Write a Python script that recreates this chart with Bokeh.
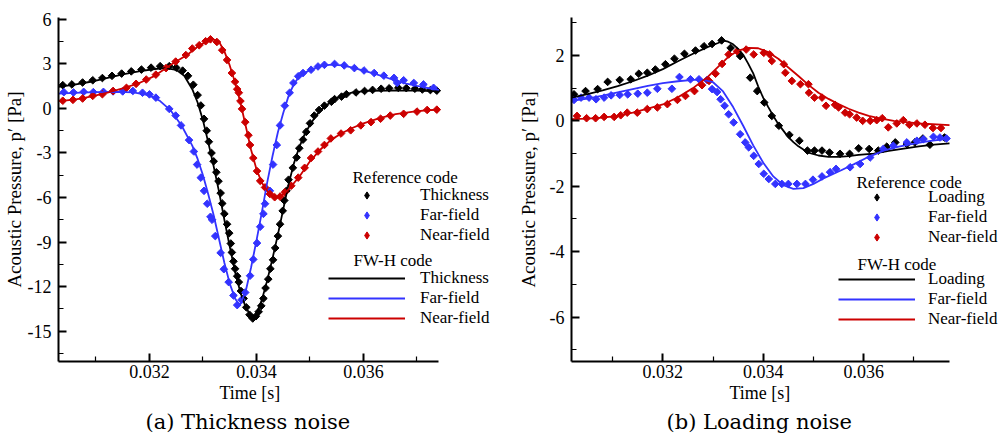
import math
from bokeh.plotting import figure
from bokeh.layouts import row
from bokeh.models import (Range1d, FixedTicker, PrintfTickFormatter, Legend,
                          LegendItem, Label, Title, ColumnDataSource)
from bokeh.embed import file_html
from bokeh.resources import INLINE

SERIF = "Liberation Serif"
CAPTION_FONT = "DejaVu Serif"
BLACK, BLUE, RED = "#000000", "#3333ff", "#cc0000"

# ---------------- (a) Thickness noise: time [s], p' [Pa] ----------------
thick_ref = [(0.03038, 1.57), (0.03055, 1.62), (0.03075, 1.75), (0.03094, 1.9), (0.03112, 2.05),
             (0.03130, 2.2), (0.03148, 2.35), (0.03166, 2.5), (0.03185, 2.62), (0.03203, 2.75),
             (0.03220, 2.85), (0.03237, 2.85), (0.03250, 2.75), (0.03262, 2.55), (0.03272, 2.2),
             (0.03282, 1.6), (0.03290, 0.9), (0.03296, 0.2), (0.03302, -0.7), (0.03307, -1.5),
             (0.03311, -2.24), (0.03316, -3.0), (0.03320, -3.56), (0.03325, -4.3), (0.03329, -4.9),
             (0.03333, -5.7), (0.03336, -6.4), (0.03340, -7.1), (0.03345, -7.8), (0.03349, -8.4),
             (0.03352, -9.1), (0.03354, -9.7), (0.03357, -10.3), (0.03360, -10.8), (0.03364, -11.3),
             (0.03367, -11.7), (0.03371, -12.3), (0.03376, -12.8), (0.03381, -13.4), (0.03387, -13.9),
             (0.03393, -14.15), (0.03399, -14.0), (0.03404, -13.7), (0.03409, -13.3), (0.03413, -12.8),
             (0.03417, -12.1), (0.03422, -11.5), (0.03426, -10.8), (0.03431, -10.2), (0.03435, -9.4),
             (0.03440, -8.6), (0.03444, -7.8), (0.03449, -6.9), (0.03452, -6.2), (0.03456, -5.55),
             (0.03460, -4.8), (0.03468, -4.0), (0.03475, -3.3), (0.03480, -2.68), (0.03487, -2.1),
             (0.03493, -1.58), (0.03500, -1.0), (0.03508, -0.48), (0.03517, -0.1), (0.03527, 0.19),
             (0.03540, 0.45), (0.03546, 0.63), (0.03559, 0.8), (0.03568, 0.96), (0.03586, 1.08),
             (0.03602, 1.18), (0.03617, 1.25), (0.03633, 1.33), (0.03648, 1.36), (0.03665, 1.39),
             (0.03680, 1.37), (0.03696, 1.33), (0.03710, 1.28), (0.03725, 1.24), (0.03737, 1.2)]
thick_far_ref = [(0.0304, 1.1), (0.03058, 1.08), (0.03077, 1.12), (0.03095, 1.1), (0.03114, 1.12),
                 (0.03132, 1.15), (0.0315, 1.15), (0.03169, 1.18), (0.03187, 1.06), (0.032, 0.95),
                 (0.03212, 0.73), (0.03237, -0.03), (0.03249, -0.48), (0.03259, -1.14), (0.03274, -2.13),
                 (0.03283, -2.9), (0.03289, -3.78), (0.03296, -4.66), (0.03302, -5.55), (0.03308, -6.42),
                 (0.03314, -7.3), (0.03317, -7.5), (0.03323, -8.6), (0.03333, -9.73), (0.03339, -10.83),
                 (0.03348, -11.7), (0.03357, -12.6), (0.03364, -13.25), (0.03372, -12.9), (0.03379, -12.4),
                 (0.03388, -11.27), (0.03394, -10.17), (0.03401, -9.07), (0.03407, -7.97), (0.03413, -7.1),
                 (0.03416, -6.42), (0.03425, -5.55), (0.03431, -3.78), (0.03438, -2.46), (0.03444, -1.14),
                 (0.03453, 0.19), (0.03462, 1.06), (0.03469, 1.72), (0.03478, 2.17), (0.03487, 2.39),
                 (0.03502, 2.61), (0.03515, 2.83), (0.03527, 2.94), (0.03546, 3.0), (0.03564, 2.9),
                 (0.03583, 2.72), (0.03601, 2.56), (0.0362, 2.39), (0.03638, 2.21), (0.03657, 2.06),
                 (0.03663, 1.72), (0.03675, 1.9), (0.03694, 1.72), (0.03712, 1.62), (0.03731, 1.39)]
thick_near_ref = [(0.03038, 0.52), (0.03057, 0.58), (0.03075, 0.67), (0.03094, 0.85), (0.03112, 0.96),
                  (0.03132, 1.18), (0.03157, 1.39), (0.03175, 1.66), (0.03194, 1.95), (0.03212, 2.28),
                  (0.03231, 2.72), (0.03249, 3.16), (0.03268, 3.6), (0.0328, 4.04), (0.03293, 4.26),
                  (0.03305, 4.53), (0.03314, 4.66), (0.03326, 4.48), (0.03336, 3.93), (0.03345, 3.27),
                  (0.03354, 2.39), (0.0336, 1.8), (0.03364, 1.3), (0.03367, 1.06), (0.0337, 0.5),
                  (0.03373, -0.03), (0.03379, -0.92), (0.03385, -1.8), (0.03388, -2.46), (0.03394, -3.34),
                  (0.03401, -4.22), (0.03407, -4.88), (0.03416, -5.32), (0.03425, -5.76), (0.03434, -5.98),
                  (0.03444, -5.94), (0.03453, -5.65), (0.03465, -5.21), (0.03478, -4.66), (0.0349, -4.0),
                  (0.03502, -3.34), (0.03515, -2.9), (0.03527, -2.46), (0.03539, -2.02), (0.03558, -1.69),
                  (0.03576, -1.47), (0.03595, -1.14), (0.03614, -0.92), (0.03632, -0.69), (0.0365, -0.48),
                  (0.03675, -0.36), (0.037, -0.21), (0.03719, -0.1), (0.03737, -0.08)]
thick_fwh = [(0.0303, 1.45), (0.0306, 1.6), (0.0309, 1.8), (0.0312, 2.05), (0.0315, 2.3), (0.0318, 2.5),
             (0.0321, 2.66), (0.0323, 2.72), (0.0325, 2.6), (0.03265, 2.2), (0.0328, 1.3), (0.0329, 0.4),
             (0.0330, -0.8), (0.0331, -2.3), (0.0332, -3.9), (0.0333, -5.6), (0.0334, -7.5), (0.0335, -9.3),
             (0.0336, -11.0), (0.0337, -12.4), (0.0338, -13.4), (0.0339, -14.0), (0.03395, -14.1),
             (0.0340, -13.85), (0.0341, -12.9), (0.0342, -11.6), (0.0343, -10.1), (0.0344, -8.5),
             (0.0345, -6.8), (0.0346, -5.1), (0.0347, -3.7), (0.0348, -2.6), (0.0349, -1.75), (0.0350, -1.1),
             (0.0351, -0.55), (0.0352, -0.12), (0.0353, 0.2), (0.0354, 0.45), (0.0355, 0.68), (0.0356, 0.88),
             (0.0358, 1.08), (0.0361, 1.18), (0.0365, 1.21), (0.0370, 1.2), (0.03741, 1.15)]
thick_far_fwh = [(0.0303, 1.0), (0.0306, 1.05), (0.0310, 1.1), (0.0314, 1.12), (0.0317, 1.08), (0.0320, 0.88),
                 (0.0322, 0.5), (0.0324, -0.15), (0.0326, -1.15), (0.0328, -2.5), (0.0329, -3.4), (0.0330, -4.5),
                 (0.0331, -5.8), (0.0332, -7.2), (0.0333, -8.8), (0.0334, -10.4), (0.0335, -11.8), (0.0336, -12.8),
                 (0.03367, -13.2), (0.0337, -13.15), (0.0338, -12.3), (0.0339, -10.7), (0.0340, -8.9),
                 (0.0341, -7.0), (0.0342, -5.0), (0.0343, -3.2), (0.0344, -1.6), (0.0345, -0.3), (0.0346, 0.85),
                 (0.0347, 1.65), (0.0348, 2.15), (0.0350, 2.6), (0.0352, 2.85), (0.0354, 2.95), (0.0356, 2.9),
                 (0.0358, 2.75), (0.0360, 2.55), (0.0362, 2.35), (0.0364, 2.12), (0.0366, 1.88), (0.0368, 1.68),
                 (0.0370, 1.52), (0.0372, 1.38), (0.03741, 1.25)]
thick_near_fwh = [(0.0303, 0.5), (0.0306, 0.6), (0.0309, 0.8), (0.0312, 1.05), (0.0315, 1.35), (0.0318, 1.7),
                  (0.0321, 2.2), (0.0324, 2.95), (0.0327, 3.6), (0.0329, 4.15), (0.0331, 4.6), (0.03318, 4.68),
                  (0.0333, 4.5), (0.0334, 3.85), (0.0335, 2.9), (0.0336, 1.75), (0.0337, 0.4), (0.0338, -1.2),
                  (0.0339, -2.8), (0.0340, -4.1), (0.0341, -5.0), (0.0342, -5.55), (0.0343, -5.9), (0.0344, -6.0),
                  (0.0345, -5.8), (0.0346, -5.45), (0.0348, -4.6), (0.0350, -3.55), (0.0352, -2.75),
                  (0.0354, -2.1), (0.0356, -1.65), (0.0358, -1.3), (0.0360, -1.0), (0.0363, -0.65),
                  (0.0366, -0.38), (0.0370, -0.18), (0.03741, -0.07)]

# ---------------- (b) Loading noise ----------------
load_ref = [(0.03023, 0.81), (0.03046, 0.91), (0.0307, 0.97), (0.0309, 1.19), (0.03114, 1.25), (0.03136, 1.27),
            (0.03152, 1.44), (0.03169, 1.47), (0.03185, 1.57), (0.03205, 1.73), (0.03223, 1.9), (0.03243, 2.05),
            (0.03265, 2.15), (0.03282, 2.28), (0.03298, 2.35), (0.03317, 2.46), (0.03335, 2.23), (0.03354, 1.98),
            (0.03374, 1.32), (0.03388, 0.91), (0.03402, 0.56), (0.03417, 0.15), (0.03431, -0.15), (0.03452, -0.43),
            (0.03472, -0.61), (0.03488, -0.91), (0.03502, -0.91), (0.03517, -0.91), (0.03532, -0.97),
            (0.03553, -1.01), (0.03572, -1.01), (0.0359, -0.84), (0.03611, -0.86), (0.03629, -0.91),
            (0.03646, -0.79), (0.03663, -0.66), (0.03686, -0.71), (0.03702, -0.66), (0.03718, -0.54),
            (0.03732, -0.73), (0.03761, -0.51)]
load_far_ref = [(0.03023, 0.64), (0.03037, 0.71), (0.03053, 0.71), (0.03067, 0.66), (0.03083, 0.71),
                (0.03097, 0.78), (0.03114, 0.79), (0.0313, 0.81), (0.0315, 0.83), (0.03169, 0.86), (0.03189, 0.98),
                (0.03218, 0.98), (0.03233, 1.34), (0.03255, 1.27), (0.03272, 1.27), (0.03288, 1.25), (0.03298, 0.97),
                (0.03308, 0.88), (0.03315, 0.66), (0.03323, 0.46), (0.03331, 0.2), (0.03341, -0.05), (0.03354, -0.41),
                (0.03364, -0.66), (0.03371, -0.81), (0.03381, -1.07), (0.03391, -1.32), (0.03401, -1.62),
                (0.03411, -1.78), (0.03424, -1.93), (0.03437, -1.93), (0.0345, -1.93), (0.03467, -1.93),
                (0.03484, -1.93), (0.03499, -1.8), (0.03517, -1.7), (0.03533, -1.57), (0.03545, -1.47),
                (0.03573, -1.42), (0.03593, -1.32), (0.03613, -1.12), (0.03639, -0.86), (0.03659, -0.76),
                (0.03686, -0.66), (0.03706, -0.61), (0.03719, -0.56), (0.03739, -0.49), (0.03752, -0.51),
                (0.03765, -0.54)]
load_near_ref = [(0.03029, 0.15), (0.03048, 0.08), (0.03066, 0.08), (0.03083, 0.12), (0.03103, 0.12),
                 (0.03116, 0.17), (0.03129, 0.25), (0.03149, 0.25), (0.03169, 0.36), (0.03189, 0.41),
                 (0.03209, 0.51), (0.03229, 0.64), (0.03245, 0.76), (0.03263, 0.91), (0.03278, 1.09),
                 (0.03292, 1.22), (0.03305, 1.44), (0.03318, 1.74), (0.03331, 2.03), (0.03348, 2.13),
                 (0.03366, 2.18), (0.03381, 2.03), (0.03401, 2.08), (0.03413, 2.03), (0.03417, 1.83),
                 (0.03441, 1.73), (0.03444, 1.47), (0.03457, 1.22), (0.03474, 1.12), (0.0349, 1.12),
                 (0.03491, 0.86), (0.03502, 0.71), (0.03517, 0.71), (0.03525, 0.46), (0.03543, 0.49),
                 (0.0355, 0.41), (0.03563, 0.25), (0.03572, 0.2), (0.03586, 0.1), (0.03598, 0.0), (0.03613, 0.0),
                 (0.03626, 0.02), (0.03637, 0.08), (0.03649, -0.2), (0.03666, -0.08), (0.03679, 0.02),
                 (0.03691, -0.12), (0.03706, -0.08), (0.03722, -0.12), (0.03738, -0.22), (0.03754, -0.22)]
load_fwh = [(0.03018, 0.71), (0.0305, 0.82), (0.0308, 0.93), (0.0311, 1.06), (0.0314, 1.21), (0.0317, 1.38),
            (0.0320, 1.58), (0.0323, 1.82), (0.0326, 2.05), (0.0329, 2.26), (0.0331, 2.38), (0.03321, 2.45),
            (0.0333, 2.42), (0.0334, 2.34), (0.0335, 2.2), (0.0336, 2.02), (0.0337, 1.75), (0.0338, 1.45),
            (0.0339, 1.05), (0.0340, 0.7), (0.0341, 0.42), (0.0342, 0.15), (0.0343, -0.1), (0.0344, -0.3),
            (0.0345, -0.5), (0.0346, -0.65), (0.0347, -0.78), (0.0348, -0.88), (0.0349, -0.97), (0.0351, -1.06),
            (0.0353, -1.1), (0.0355, -1.1), (0.0357, -1.08), (0.0359, -1.04), (0.0362, -1.0), (0.0365, -0.92),
            (0.0368, -0.85), (0.0371, -0.78), (0.0374, -0.73), (0.03771, -0.69)]
load_far_fwh = [(0.03018, 0.61), (0.0305, 0.68), (0.0308, 0.77), (0.0311, 0.87), (0.0314, 0.97), (0.0317, 1.07),
                (0.0320, 1.15), (0.0323, 1.21), (0.0326, 1.25), (0.0328, 1.25), (0.0330, 1.18), (0.0332, 0.9),
                (0.0334, 0.42), (0.0336, -0.15), (0.0338, -0.75), (0.0340, -1.28), (0.0342, -1.7), (0.0344, -1.97),
                (0.0346, -2.08), (0.0348, -2.06), (0.0350, -1.93), (0.0352, -1.76), (0.0355, -1.55),
                (0.0358, -1.33), (0.0361, -1.1), (0.0364, -0.91), (0.0367, -0.79), (0.0370, -0.7),
                (0.0373, -0.62), (0.03771, -0.54)]
load_near_fwh = [(0.03018, 0.05), (0.0305, 0.07), (0.0308, 0.1), (0.0311, 0.15), (0.0314, 0.25), (0.0317, 0.37),
                 (0.0320, 0.5), (0.0323, 0.72), (0.0326, 1.0), (0.0329, 1.35), (0.0331, 1.65), (0.0333, 1.95),
                 (0.0335, 2.15), (0.0337, 2.23), (0.0339, 2.22), (0.0341, 2.1), (0.0343, 1.9), (0.0345, 1.63),
                 (0.0347, 1.37), (0.0349, 1.1), (0.0351, 0.86), (0.0353, 0.67), (0.0355, 0.51), (0.0357, 0.37),
                 (0.0359, 0.25), (0.0361, 0.15), (0.0363, 0.08), (0.0366, 0.0), (0.0369, -0.05), (0.0372, -0.09),
                 (0.03771, -0.13)]

time_ticks = [0.032, 0.034, 0.036]
time_minor = [0.031, 0.033, 0.035, 0.037]
thick_yticks = [-15, -12, -9, -6, -3, 0, 3, 6]
thick_yminor = [-16.5, -13.5, -10.5, -7.5, -4.5, -1.5, 1.5, 4.5]
load_yticks = [-6, -4, -2, 0, 2]
load_yminor = [-7, -5, -3, -1, 1, 3]


def src(pairs):
    return ColumnDataSource(dict(t=[a for a, _ in pairs], p=[b for _, b in pairs]))


def panel(width, borders, t_axis, axis_px, yr, yticks, yminor, refs, fwhs, names,
          caption, leg_geo, xlab_off, cap_off, ylab_standoff):
    left, top, bottom = borders
    frame_w = width - left
    t0, t1 = t_axis
    # the frame runs past the end of the time axis so the legend has room on the right
    t_end = t0 + (t1 - t0) * frame_w / axis_px
    fig = figure(width=width, height=438, x_range=Range1d(t0, t_end), y_range=Range1d(*yr),
                 output_backend="svg", toolbar_location=None,
                 min_border_left=left, min_border_right=0,
                 min_border_top=top, min_border_bottom=bottom)
    fig.outline_line_color = None
    fig.grid.visible = False
    fig.background_fill_color = "white"
    fig.border_fill_color = "white"

    for ax in (fig.xaxis[0], fig.yaxis[0]):
        ax.axis_line_width = 2
        ax.axis_line_color = "black"
        ax.major_tick_line_color = "black"
        ax.minor_tick_line_color = "black"
        ax.major_tick_line_width = 2
        ax.minor_tick_line_width = 1.2
        ax.major_tick_in = 8
        ax.major_tick_out = 0
        ax.minor_tick_in = 5
        ax.minor_tick_out = 0
        ax.major_label_text_font = SERIF
        ax.major_label_text_font_size = "18px"
        ax.major_label_text_color = "black"
        ax.axis_label_text_color = "black"
    fig.xaxis.bounds = (t0, t1)
    fig.xaxis.ticker = FixedTicker(ticks=time_ticks, minor_ticks=time_minor)
    fig.xaxis.formatter = PrintfTickFormatter(format="%.3f")
    fig.xaxis.major_label_standoff = 3
    fig.yaxis.ticker = FixedTicker(ticks=yticks, minor_ticks=yminor)
    fig.yaxis.formatter = PrintfTickFormatter(format="%d")
    fig.yaxis.major_label_standoff = 7
    fig.yaxis.axis_label = "Acoustic Pressure, p\u2032 [Pa]"
    fig.yaxis.axis_label_text_font = SERIF
    fig.yaxis.axis_label_text_font_size = "19px"
    fig.yaxis.axis_label_text_font_style = "normal"
    fig.yaxis.axis_label_standoff = ylab_standoff

    fig.add_layout(Title(text="Time [s]", align="left", offset=xlab_off, standoff=0,
                         text_font=SERIF, text_font_size="18px", text_font_style="normal",
                         text_color="black"), "below")
    fig.add_layout(Title(text=caption, align="left", offset=cap_off, standoff=10,
                         text_font=CAPTION_FONT, text_font_size="21px", text_font_style="normal",
                         text_color="black"), "below")

    colors = [BLACK, BLUE, RED]
    stubs, lines = [], []
    for pairs, c in zip(refs, colors):
        s = src(pairs)
        fig.scatter("t", "p", source=s, marker="square", angle=math.pi / 4, size=5.4,
                    fill_color=c, line_color=c, line_width=1)
        stubs.append(fig.scatter("t", "p", source=s, marker="diamond", size=7,
                                 fill_color=c, line_color=c, line_width=1, visible=False))
    for pairs, c in zip(fwhs, colors):
        lines.append(fig.line("t", "p", source=src(pairs), line_color=c, line_width=1.8))

    lx, ly_ref, ly_fwh, standoff, ty_ref, ty_fwh, tx = leg_geo
    common = dict(glyph_width=77, glyph_height=18, label_height=18, spacing=0, padding=0,
                  margin=0, label_standoff=standoff, border_line_color=None,
                  background_fill_alpha=0, label_text_font=SERIF,
                  label_text_font_size="17px", label_text_color="black")
    fig.add_layout(Legend(items=[LegendItem(label=n, renderers=[r]) for n, r in zip(names, stubs)],
                          location=(lx, ly_ref), **common))
    fig.add_layout(Legend(items=[LegendItem(label=n, renderers=[r]) for n, r in zip(names, lines)],
                          location=(lx, ly_fwh), **common))
    for txt, x, y in (("Reference code", tx, ty_ref), ("FW-H code", tx + 1, ty_fwh)):
        fig.add_layout(Label(x=x, y=y, x_units="screen", y_units="screen", text=txt,
                             text_font=SERIF, text_font_size="17px", text_baseline="middle",
                             text_align="left", text_color="black"))
    return fig


left = panel(503, (55, 10, 77), (0.0303, 0.03741), 383, (-17.05, 6.13), thick_yticks, thick_yminor,
             [thick_ref, thick_far_ref, thick_near_ref], [thick_fwh, thick_far_fwh, thick_near_fwh],
             ["Thickness", "Far-field", "Near-field"], "(a) Thickness noise",
             (270, 116, 33, 15, 184.3, 101, 294), 161, 87, 0)
right = panel(504, (68, 17, 76), (0.03018, 0.03771), 378, (-7.36, 3.16), load_yticks, load_yminor,
              [load_ref, load_far_ref, load_near_ref], [load_fwh, load_far_fwh, load_near_fwh],
              ["Loading", "Far-field", "Near-field"], "(b) Loading noise",
              (267, 113.7, 31.7, 13, 179, 97, 285), 158, 95, 8)

layout = row(left, right)
open("out.html", "w").write(file_html(layout, INLINE))
